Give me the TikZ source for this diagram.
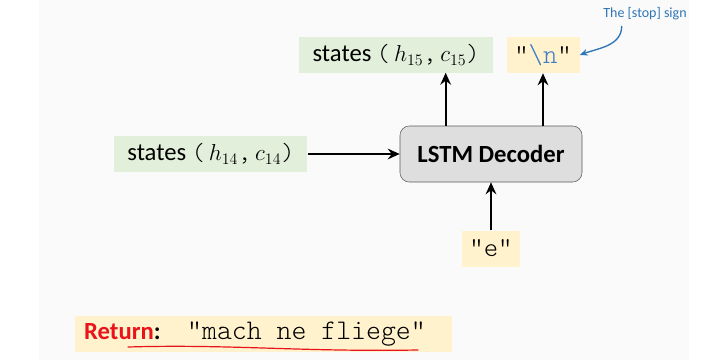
\documentclass[tikz,border=0pt]{standalone}
\usepackage{fontspec}
\setmainfont{Carlito}
\setmonofont{lmmonolt10-regular.otf}
\usetikzlibrary{arrows.meta, positioning}

\definecolor{slidebg}{HTML}{FAFAFA}
\definecolor{boxgreen}{HTML}{E2EFDA}
\definecolor{boxyellow}{HTML}{FFF2CC}
\definecolor{decgray}{HTML}{DEDEDE}
\definecolor{decborder}{HTML}{5A5A5A}
\definecolor{noteblue}{HTML}{2E75B6}
\definecolor{codeblue}{HTML}{3D7CC9}
\definecolor{retred}{HTML}{E8141A}

% mixed state label: typewriter brackets around italic symbols
\newcommand{\hstate}[2]{states\ \texttt{(}\,$h_{#1}$\texttt{,}\,$c_{#2}$\texttt{)}}

\begin{document}
\begin{tikzpicture}[
      x=0.75pt, y=0.75pt,
      state/.style={
          rectangle,
          fill=boxgreen,
          minimum width=145pt,
          minimum height=27pt,
          font=\fontsize{18.5}{22}\selectfont
        },
      token/.style={
          rectangle,
          fill=boxyellow,
          minimum height=27pt,
          font=\fontsize{20.5}{22}\selectfont\ttfamily
        },
      decoder/.style={
          rectangle,
          draw=decborder,
          rounded corners=7pt,
          fill=decgray,
          minimum width=136.5pt,
          minimum height=42pt,
          font=\fontsize{18.5}{22}\selectfont\bfseries
        },
      note/.style={
          text=noteblue,
          inner sep=1pt,
          font=\fontsize{10.5}{12}\selectfont
        },
      arrow/.style={
          -{Stealth[length=9pt,width=8pt,inset=3pt]},
          line width=1.5pt
        },
      notearrow/.style={
          -{Stealth[length=6pt,width=5pt,inset=2pt]},
          draw=noteblue,
          line width=1pt
        }
    ]

    % Slide background
    \useasboundingbox (0,0) rectangle (728,-360);
    \fill[white] (0,0) rectangle (728,-360);
    \fill[slidebg] (39,0) rectangle (689,-360);

    % Nodes
    \node[decoder] (dec) at (491,-154) {LSTM Decoder};
    \node[state, left=69pt of dec] (hin) {\hstate{14}{14}};
    \node[state] (hout) at (396,-55) {\hstate{15}{15}};
    \node[token, minimum width=54.75pt] (stop) at (543,-55) {"{\color{codeblue}\textbackslash n}"};
    \node[token, minimum width=43.5pt, below=36pt of dec] (inp) {"e"};
    \node[note] (sign) at (645,-14) {The [stop] sign};
    \node[token, minimum width=282.75pt] (ret) at (263.5,-334)
        {{\fontsize{18.5}{22}\fontspec{Carlito}\bfseries{\color{retred}Return}:}\hspace{20pt}{\fontsize{21.3}{24}\selectfont"mach ne fliege"}\kern12.75pt\null};

    % Arrows
    \draw[arrow] (hin) -- (dec);
    \draw[arrow] (inp) -- (dec);
    \draw[arrow] ([xshift=-34pt]dec.north) -- ++(0,53);
    \draw[arrow] (dec.north -| stop.south) -- (stop.south);
    \draw[notearrow] ([xshift=15pt,yshift=-3pt]sign.south west)
        to[out=-90,in=20] (stop.east);

    % Underline on the returned string
    \draw[retred, line width=0.9pt, line cap=round]
        (128,-347) .. controls (230,-344) and (300,-352) .. (418,-350);

  \end{tikzpicture}
\end{document}
